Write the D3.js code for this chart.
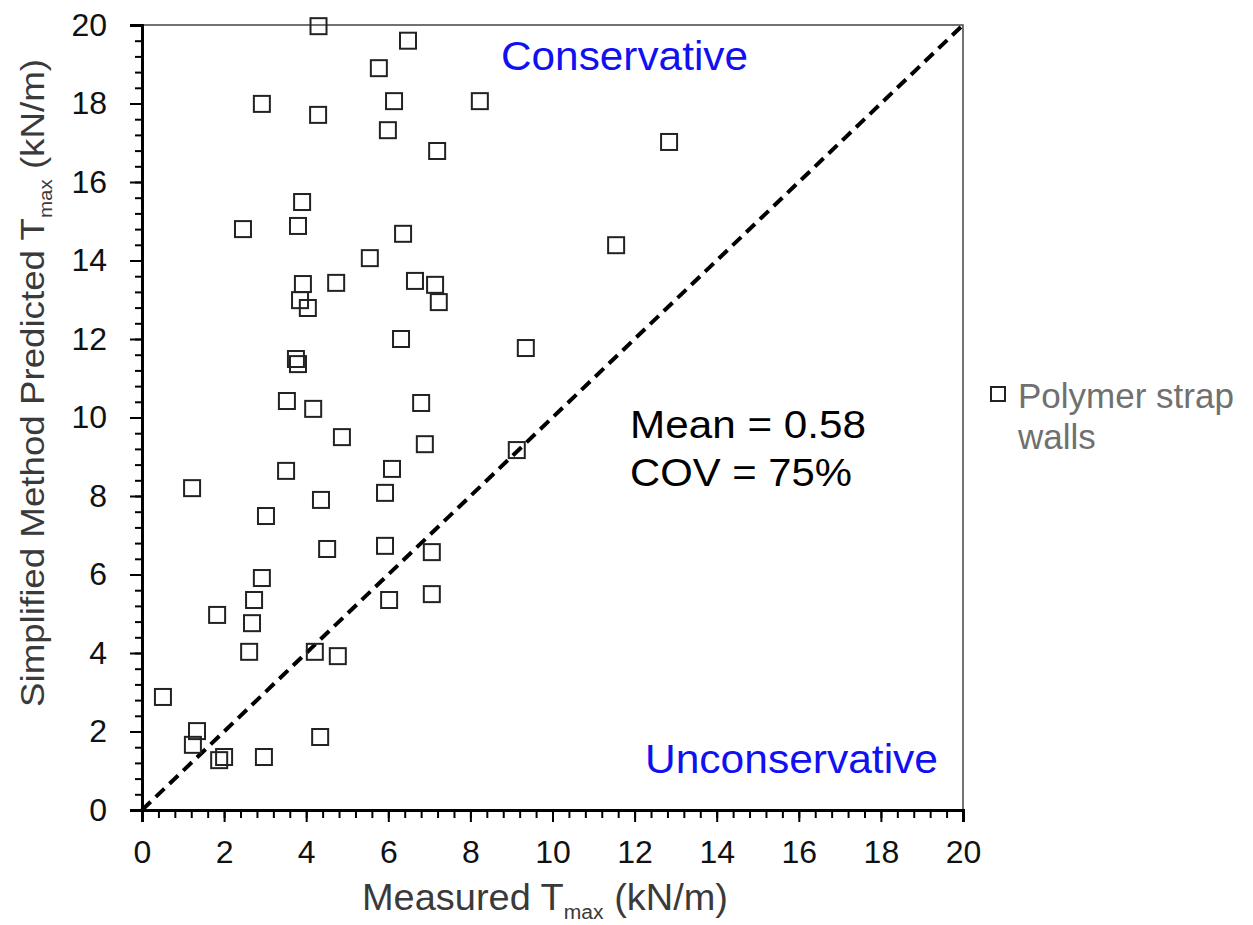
<!DOCTYPE html>
<html>
<head>
<meta charset="utf-8">
<script src="https://cdn.jsdelivr.net/npm/d3@7"></script>
<style>
  body { margin: 0; background: #fff; }
  svg { display: block; font-family: "Liberation Sans", Arial, sans-serif; }
</style>
</head>
<body>
<div id="chart"></div>
<script>
// ------------------------------------------------------
// Data (kN/m)
const measured = [4.3, 6.48, 5.77, 2.92, 6.14, 8.23, 4.29, 5.99, 7.19, 12.84,
  3.9, 3.8, 2.46, 6.36, 11.55, 5.55, 3.92, 4.73, 6.65, 7.14,
  3.85, 4.04, 7.23, 6.31, 9.35, 3.75, 3.8, 3.53, 4.17, 6.8,
  4.87, 6.89, 9.13, 1.22, 3.51, 6.09, 4.36, 5.92, 3.02, 4.51,
  5.92, 7.06, 2.92, 2.73, 6.02, 7.06, 1.83, 2.68, 2.61, 4.21,
  4.77, 0.51, 1.34, 1.24, 4.34, 1.88, 2.0, 2.97]
const predicted = [19.97, 19.6, 18.9, 17.99, 18.06, 18.06, 17.71, 17.32, 16.79, 17.02,
  15.49, 14.88, 14.8, 14.68, 14.39, 14.06, 13.4, 13.43, 13.48, 13.38,
  12.99, 12.79, 12.94, 12.0, 11.77, 11.49, 11.36, 10.42, 10.22, 10.37,
  9.5, 9.32, 9.17, 8.2, 8.64, 8.69, 7.9, 8.08, 7.49, 6.65,
  6.73, 6.57, 5.91, 5.35, 5.35, 5.5, 4.97, 4.76, 4.03, 4.03,
  3.92, 2.88, 2.01, 1.66, 1.86, 1.27, 1.35, 1.35]

const tickValues = [0, 2, 4, 6, 8, 10, 12, 14, 16, 18, 20]
const minorStep = 0.4
const lineOfEquality = [[0, 0], [20, 20]]
const seriesName = ['Polymer strap', 'walls']
const statsText = ['Mean = 0.58', 'COV = 75%']

// ------------------------------------------------------
// Layout
const width = 1253
const height = 925
const margin = { left: 142, top: 25, right: 290, bottom: 115 }

const svg = d3.select('#chart')
  .append('svg')
  .attr('width', width)
  .attr('height', height)

const x = d3.scaleLinear()
  .domain([0, 20])
  .range([margin.left, width - margin.right]) // 142 -> 963

const y = d3.scaleLinear()
  .domain([0, 20])
  .range([height - margin.bottom, margin.top]) // 810 -> 25

const minorTicks = d3.range(0, 20 + 1e-6, minorStep)

// frame (top and right, thin)
svg.append('path')
  .attr('d', `M${x(0)},${y(20)} H${x(20)} V${y(0)}`)
  .attr('fill', 'none')
  .attr('stroke', '#444')
  .attr('stroke-width', 1.5)

// ------------------------------------------------------
// Axes
const xMinor = svg.append('g')
  .attr('transform', `translate(0,${y(0)})`)
  .call(d3.axisBottom(x).tickValues(minorTicks).tickSize(8).tickFormat(''))
const xMajor = svg.append('g')
  .attr('transform', `translate(0,${y(0)})`)
  .call(d3.axisBottom(x).tickValues(tickValues).tickSize(12).tickPadding(18).tickFormat(d3.format('d')))

const yMinor = svg.append('g')
  .attr('transform', `translate(${x(0)},0)`)
  .call(d3.axisLeft(y).tickValues(minorTicks).tickSize(7).tickFormat(''))
const yMajor = svg.append('g')
  .attr('transform', `translate(${x(0)},0)`)
  .call(d3.axisLeft(y).tickValues(tickValues).tickSize(12).tickPadding(23).tickFormat(d3.format('d')))

for (const g of [xMinor, xMajor, yMinor, yMajor]) {
  g.select('.domain').attr('stroke', '#000').attr('stroke-width', 3)
  g.selectAll('.tick line').attr('stroke', '#000').attr('stroke-width', 2)
  g.selectAll('.tick text')
    .attr('fill', '#111')
    .attr('font-size', 32)
    .attr('font-family', '"Liberation Sans", Arial, sans-serif')
}
xMajor.selectAll('.tick text').attr('dy', '0.71em')

// ------------------------------------------------------
// Axis titles (condensed text, so fix the length)
const xTitle = svg.append('text')
  .attr('x', 362)
  .attr('y', 910)
  .attr('fill', '#3a3a3a')
  .attr('font-size', 36)
  .attr('textLength', 366)
  .attr('lengthAdjust', 'spacingAndGlyphs')
xTitle.append('tspan').text('Measured T')
xTitle.append('tspan').attr('font-size', 20).attr('dy', 9).text('max')
xTitle.append('tspan').attr('dy', -9).text(' (kN/m)')

const yTitle = svg.append('text')
  .attr('transform', 'translate(44,707) rotate(-90)')
  .attr('fill', '#3a3a3a')
  .attr('font-size', 34)
  .attr('textLength', 648)
  .attr('lengthAdjust', 'spacingAndGlyphs')
yTitle.append('tspan').text('Simplified Method Predicted T')
yTitle.append('tspan').attr('font-size', 19).attr('dy', 8).text('max')
yTitle.append('tspan').attr('dy', -8).text(' (kN/m)')

// ------------------------------------------------------
// 1:1 line
svg.append('path')
  .datum(lineOfEquality)
  .attr('d', d3.line().x(d => x(d[0])).y(d => y(d[1])))
  .attr('stroke', '#000')
  .attr('stroke-width', 4)
  .attr('stroke-dasharray', '12,7')
  .attr('fill', 'none')

// ------------------------------------------------------
// Points
const size = 16
svg.append('g')
  .selectAll('rect')
  .data(measured.map((m, i) => [m, predicted[i]]))
  .join('rect')
  .attr('x', d => x(d[0]) - size / 2)
  .attr('y', d => y(d[1]) - size / 2)
  .attr('width', size)
  .attr('height', size)
  .attr('fill', 'none')
  .attr('stroke', '#222')
  .attr('stroke-width', 2)

// ------------------------------------------------------
// Annotations
svg.append('text')
  .attr('x', 501).attr('y', 70)
  .attr('fill', '#1010f0')
  .attr('font-size', 40)
  .attr('textLength', 247)
  .attr('lengthAdjust', 'spacingAndGlyphs')
  .text('Conservative')

svg.append('text')
  .attr('x', 645).attr('y', 773)
  .attr('fill', '#1010f0')
  .attr('font-size', 40)
  .attr('textLength', 293)
  .attr('lengthAdjust', 'spacingAndGlyphs')
  .text('Unconservative')

const statsWidth = [236, 222]
svg.append('g')
  .selectAll('text')
  .data(statsText)
  .join('text')
  .attr('x', 630)
  .attr('y', (d, i) => 438 + i * 48)
  .attr('fill', '#000')
  .attr('font-size', 38)
  .attr('textLength', (d, i) => statsWidth[i])
  .attr('lengthAdjust', 'spacingAndGlyphs')
  .text(d => d)

// ------------------------------------------------------
// Legend
svg.append('rect')
  .attr('x', 991).attr('y', 387)
  .attr('width', 14).attr('height', 14)
  .attr('fill', 'none')
  .attr('stroke', '#222')
  .attr('stroke-width', 2)

svg.append('g')
  .selectAll('text')
  .data(seriesName)
  .join('text')
  .attr('x', 1018)
  .attr('y', (d, i) => 408 + i * 41)
  .attr('fill', '#707070')
  .attr('font-size', 35)
  .text(d => d)
</script>
</body>
</html>
